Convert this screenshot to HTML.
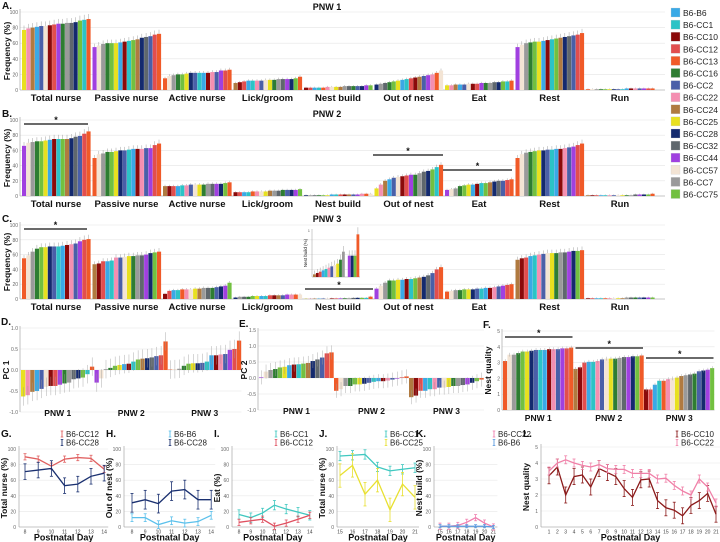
<!DOCTYPE html>
<html><head><meta charset="utf-8">
<style>
html,body{margin:0;padding:0;background:#fff;}
svg{display:block;font-family:"Liberation Sans",sans-serif;}
</style></head>
<body>
<svg id="fig" width="720" height="542" viewBox="0 0 720 542"></svg>
<script>
const strains=["B6-B6","B6-CC1","B6-CC10","B6-CC12","B6-CC13","B6-CC16","B6-CC2","B6-CC22","B6-CC24","B6-CC25","B6-CC28","B6-CC32","B6-CC44","B6-CC57","B6-CC7","B6-CC75"];
const colors=["#3aa9e6","#2cc3c6","#8b0a0a","#e24e4e","#f05a28","#2e7d32","#4a5fa8","#f48fb1","#b07a40","#e8e020","#142a6e","#5f676d","#a040e0","#f3e4d4","#9a9a9a","#72c040"];
const behaviors=["Total nurse","Passive nurse","Active nurse","Lick/groom","Nest build","Out of nest","Eat","Rest","Run"];
const orders=[
[12,13,14,5,15,9,0,2,1,15,8,10,11,6,3,4],
[4,13,14,5,15,9,10,6,1,0,2,7,6,12,3,4],
[8,2,3,0,1,7,6,13,9,5,14,11,12,10,15,4],
[2,3,0,1,4,7,13,9,8,14,11,5,6,10,12,15],
[10,14,11,5,15,9,0,1,3,2,8,6,12,7,4,13],
[9,7,8,0,6,13,2,3,12,5,14,11,10,15,1,4]];
const pnw1=[[77,79,80,81,82,82,83,84,85,85,86,86,87,89,90,91],[55,57,59,60,60,60,61,62,63,64,65,67,68,69,71,72],[15,18,19,20,20,21,22,22,22,22,22,23,23,25,25,26],[9,10,11,12,12,12,12,13,13,13,14,14,14,14,15,17],[3,3,3,3,3,4,4,4,4,5,5,5,5,5,6,6],[7,8,9,10,11,12,13,14,15,16,17,18,19,20,22,25],[6,6,7,7,7,8,8,8,9,9,9,10,10,11,11,12],[55,58,60,61,62,62,63,64,65,66,67,68,69,70,71,73],[1,1,1,1,1,1,1,1,1,2,2,2,2,2,2,2]];
const pnw2=[[66,70,71,72,72,73,74,75,75,75,75,76,78,79,82,85],[50,55,56,58,58,59,60,60,61,62,62,62,63,63,67,69],[13,13,13,13,14,14,15,15,15,15,16,16,16,16,17,18],[5,5,5,5,6,6,6,6,7,7,7,8,8,8,8,9],[1,1,1,1,1,1,2,2,2,2,2,2,2,3,3,3],[10,15,20,22,24,25,26,27,28,28,30,32,33,35,38,41],[8,9,10,13,14,15,15,16,17,17,18,19,20,20,21,22],[50,55,57,58,59,60,60,61,61,62,62,63,64,65,67,69],[1,1,1,1,1,1,1,1,1,1,1,2,2,2,2,3]];
const pnw3=[[55,59,64,68,70,70,71,71,71,72,73,74,75,78,80,81],[47,48,51,51,52,56,56,57,58,58,59,59,60,62,63,64],[7,11,12,12,13,13,13,14,14,15,15,15,16,17,18,22],[2,3,3,3,4,4,4,4,5,5,5,5,6,6,6,6],[0.3,0.4,0.5,0.5,0.6,0.7,0.8,0.8,0.9,1,1.1,1.5,1.6,1.6,1.6,3.2],[14,18,22,25,25,26,26,27,27,28,29,30,32,35,40,43],[10,11,12,12,13,13,13,14,14,15,15,16,17,18,19,20],[53,55,56,58,59,60,61,62,62,62,63,63,64,65,65,66],[1,1,1,1,1,1,1,1,1,2,2,2,2,2,2,2]];
const nestInset=[0.2,0.3,0.4,0.5,0.6,0.7,0.8,0.9,1.0,1.3,1.9,null,1.6,1.6,1.6,3.2];
const pc1=[[-0.63,-0.6,-0.52,-0.5,-0.45,-0.4,-0.38,-0.38,-0.35,-0.32,-0.3,-0.22,-0.2,-0.18,-0.1,0.08],[-0.3,-0.2,0.02,0.05,0.1,0.12,0.14,0.15,0.2,0.25,0.27,0.28,0.3,0.33,0.35,0.68],[0.01,0.02,0.03,0.1,0.15,0.16,0.16,0.17,0.2,0.35,0.35,0.37,0.38,0.48,0.5,0.7]];
const pc2=[[0.02,0.2,0.25,0.28,0.33,0.35,0.4,0.42,0.43,0.45,0.47,0.53,0.58,0.64,0.77,0.8],[-0.4,-0.35,-0.25,-0.25,-0.2,-0.2,-0.18,-0.15,-0.12,-0.1,-0.1,-0.08,-0.05,-0.02,0.02,0.05],[-0.6,-0.55,-0.4,-0.4,-0.35,-0.35,-0.3,-0.3,-0.28,-0.25,-0.25,-0.22,-0.2,-0.15,-0.1,-0.05]];
const nestQ=[[3.1,3.5,3.5,3.6,3.7,3.7,3.75,3.8,3.8,3.8,3.85,3.85,3.85,3.9,3.9,3.95],[2.6,2.7,3.0,3.05,3.05,3.1,3.2,3.25,3.25,3.25,3.3,3.35,3.35,3.4,3.4,3.45],[1.3,1.3,1.6,1.85,1.85,1.95,2.0,2.05,2.15,2.2,2.25,2.3,2.45,2.5,2.55,2.65]];
const pnwLabels=["PNW 1","PNW 2","PNW 3"];
const pctTicks=[0,20,40,60,80,100];
const daysA=[8,9,10,11,12,13,14];
const daysB=[15,16,17,18,19,20,21];
const daysL=[1,2,3,4,5,6,7,8,9,10,11,12,13,14,15,16,17,18,19,20,21];
const gCC12=[90,87,78,87,89,88,74], gCC28=[71,73,75,53,55,65,69];
const hB6=[12,12,3,8,5,7,15], hCC28=[31,35,30,46,48,35,35];
const iCC1=[16,12,18,28,23,19,15], iCC12=[6,8,10,1,5,10,15];
const jCC1=[91,92,93,77,72,74,76], jCC25=[66,79,42,60,22,55,38];
const kCC22=[1,1,2,6,12,5,0], kB6=[1,1,1,1,1,1,0];
const lCC22=[3.5,4.0,4.2,4.0,3.85,3.75,3.9,3.65,3.6,3.6,3.35,3.35,3.35,3.0,3.05,2.6,2.25,2.0,3.0,2.5,1.5];
const lCC10=[3.2,3.75,2.0,3.15,3.25,2.5,3.65,3.4,3.15,2.4,1.85,2.95,3.0,1.65,1.2,1.05,0.7,1.35,1.65,2.1,0.8];

const svg=document.getElementById('fig');
const NS="http://www.w3.org/2000/svg";
function mk(tag,at,parent){const e=document.createElementNS(NS,tag);for(const k in at)e.setAttribute(k,at[k]);(parent||svg).appendChild(e);return e;}
function txt(s,x,y,size,opt,parent){opt=opt||{};const e=mk('text',{x:x,y:y,'font-size':size,fill:opt.fill||'#111','text-anchor':opt.anchor||'middle','font-weight':opt.bold?'bold':'normal'},parent);if(opt.rot)e.setAttribute('transform','rotate(-90 '+x+' '+y+')');e.textContent=s;return e;}
function line(x1,y1,x2,y2,st,w,parent){return mk('line',{x1:x1,y1:y1,x2:x2,y2:y2,stroke:st,'stroke-width':w},parent);}

function barPanel(name,letter,title,data,y0,y100,titleY,star){
  const g=mk('g',{});
  
  
  const ys=v=>y0-(y0-y100)*v/100;
  pctTicks.forEach(t=>{line(20,ys(t),665,ys(t),'#e4e4e4',0.6,g);txt(String(t),18,ys(t)+2,5,{anchor:'end',fill:'#666'},g);});
  line(20,y100-3,20,y0,'#999',0.6,g);line(20,y0,665,y0,'#999',0.6,g);
  txt(letter,2,y100-3,10,{anchor:'start',bold:true},g);
  txt(title,327,titleY,9,{bold:true},g);
  txt('Frequency (%)',10,(y0+y100)/2,8.5,{rot:true,bold:true},g);
  data.forEach((vals,gi)=>{
    const ord=orders[(gi+letter.charCodeAt(0))%orders.length];
    vals.forEach((v,i)=>{
      const x=22+gi*70.5+i*4.3;
      const r=mk('rect',{x:x,y:ys(v),width:4.1,height:y0-ys(v),fill:colors[ord[i]]},g);
      
      
      const e=(0.06*v+1)*(y0-y100)/100;
      line(x+2,ys(v)-e,x+2,ys(v),'#888',0.4,g);
    });
    const l=txt(behaviors[gi],22+gi*70.5+34,y0+11,9.5,{},g);
    l.setAttribute('font-weight','600');
  });
  (star||[]).forEach(s=>{line(s[0],s[2],s[1],s[2],'#111',1.3,g);txt('*',(s[0]+s[1])/2,s[2]-1,9,{bold:true},g);});
  return g;
}
barPanel('panel-a-pnw1','A.','PNW 1',pnw1,90,12,10,[]);
barPanel('panel-b-pnw2','B.','PNW 2',pnw2,196,120,117,[[24,88,124],[373,443,155],[443,512,170]]);
barPanel('panel-c-pnw3','C.','PNW 3',pnw3,299,225,222,[[24,87,229],[305,373,289]]);
(function(){
  const g=mk('g',{});
  
  
  const b=277,t=229;
  const ys=v=>b-(b-t)*v/3.6;
  line(312,t,312,b,'#999',0.5,g);line(312,b,360,b,'#999',0.5,g);
  txt('1',310,t+3,4,{anchor:'end',fill:'#666'},g);
  txt('Nest build (%)',307,(t+b)/2,4.5,{rot:true},g);
  const ord=orders[2];
  nestInset.forEach((v,i)=>{if(v===null)return;const x=313+i*2.9;
    const r=mk('rect',{x:x,y:ys(v),width:2.8,height:b-ys(v),fill:colors[ord[i]]},g);
    
    
    line(x+1.4,ys(v)-(0.3*v+1)*3.6,x+1.4,ys(v),'#888',0.4,g);});
})();

function pcPanel(name,letter,axisTitle,data,x0,gw,y0,unit,ticks,dec,star){
  const g=mk('g',{});
  
  
  const ys=v=>y0-unit*v;
  const xr=x0+gw*3;
  ticks.forEach(t=>{line(x0-1,ys(t),xr,ys(t),'#e4e4e4',0.6,g);txt(t.toFixed(dec),x0-3,ys(t)+2,5,{anchor:'end',fill:'#666'},g);});
  line(x0-1,ys(ticks[ticks.length-1])-2,x0-1,ys(ticks[0]),'#999',0.6,g);
  if(star)line(x0-1,ys(ticks[0]),xr,ys(ticks[0]),'#999',0.6,g);
  txt(letter,x0-20,ys(ticks[ticks.length-1])-3,10,{anchor:'start',bold:true},g);
  txt(axisTitle,x0-12,(ys(ticks[0])+ys(ticks[ticks.length-1]))/2,8.5,{rot:true,bold:true},g);
  const bw=gw/16;
  data.forEach((vals,gi)=>{
    const ord=orders[(gi+3+letter.charCodeAt(0))%orders.length];
    vals.forEach((v,i)=>{
      const x=x0+gi*gw+i*bw;
      const yA=Math.min(ys(v),ys(0)),h=Math.abs(ys(v)-ys(0));
      const r=mk('rect',{x:x,y:yA,width:bw-0.3,height:h,fill:colors[ord[i]]},g);
      
      
      const e=star?0.12*unit:0.22*unit;
      line(x+bw/2,ys(v)-e,x+bw/2,ys(v)+e,'#999',0.4,g);
    });
    const lb=txt(pnwLabels[gi],x0+gi*gw+gw/2,ys(ticks[0])+(star?11:4),8.5,{},g);lb.setAttribute('font-weight','600');
  });
  (star||[]).forEach((s,i)=>{const xa=x0+i*gw+2,xb=x0+(i+1)*gw-1;line(xa,s,xb,s,'#111',1.3,g);txt('*',(xa+xb)/2,s-1,9,{bold:true},g);});
}
pcPanel('panel-d-pc1','D.','PC 1',pc1,21,73.5,370,42,[-1,-0.5,0,0.5,1],1,null);
pcPanel('panel-e-pc2','E.','PC 2',pc2,259,75,378,32,[-1,-0.5,0,0.5,1,1.5],1,null);
pcPanel('panel-f-nest-quality','F.','Nest quality',nestQ,503,70.5,410,15.8,[0,1,2,3,4,5],0,[337,348,358]);

function linePanel(name,letter,yTitle,days,series,axX,xd0,dx,y0,ytop,ymax,ticks,legX){
  const g=mk('g',{});
  
  
  const ys=v=>y0-(y0-ytop)*v/ymax;
  const xs=i=>xd0+i*dx;
  const xr=xs(days.length-1)+4;
  ticks.forEach(t=>{line(axX,ys(t),xr,ys(t),'#e8e8e8',0.6,g);txt(String(t),axX-3,ys(t)+2,5,{anchor:'end',fill:'#666'},g);});
  line(axX,ytop-3,axX,y0,'#999',0.6,g);line(axX,y0,xr,y0,'#999',0.6,g);
  days.forEach((d,i)=>txt(String(d),xs(i),y0+6.5,5,{fill:'#444'},g));
  const t=txt('Postnatal Day',(axX+xr)/2,y0+13.5,9,{},g);t.setAttribute('font-weight','600');
  txt(yTitle,axX-12,(y0+ytop)/2,8.5,{rot:true,bold:true},g);
  txt(letter,axX-18,437,10,{anchor:'start',bold:true},g);
  series.forEach((s,si)=>{
    const pts=s.vals.map((v,i)=>xs(i)+','+ys(v)).join(' ');
    s.vals.forEach((v,i)=>{const e=(s.err||0.08)*ymax*(y0-ytop)/ymax;line(xs(i),ys(v)-e,xs(i),ys(v)+e,s.color,0.8,g);line(xs(i)-1.5,ys(v)-e,xs(i)+1.5,ys(v)-e,s.color,0.8,g);line(xs(i)-1.5,ys(v)+e,xs(i)+1.5,ys(v)+e,s.color,0.8,g);});
    const p=mk('polyline',{points:pts,fill:'none',stroke:s.color,'stroke-width':1.3},g);
    
    
    const ly=437+si*8.5;
    line(legX,ly-6,legX,ly,s.color,0.9,g);line(legX-1.3,ly-6,legX+1.3,ly-6,s.color,0.8,g);line(legX-1.3,ly,legX+1.3,ly,s.color,0.8,g);
    txt(s.name,legX+4,ly,8,{anchor:'start',fill:'#222'},g);
  });
}
linePanel('panel-g','G.','Total nurse (%)',daysA,[{name:'B6-CC12',vals:gCC12,color:'#e06060',err:0.04},{name:'B6-CC28',vals:gCC28,color:'#1a3070',err:0.1}],19,25,13.2,527,449,100,pctTicks,62);
linePanel('panel-h','H.','Out of nest (%)',daysA,[{name:'B6-B6',vals:hB6,color:'#5bc0eb',err:0.05},{name:'B6-CC28',vals:hCC28,color:'#1a3070',err:0.12}],124,132,13.2,527,449,100,pctTicks,170);
linePanel('panel-i','I.','Eat (%)',daysA,[{name:'B6-CC1',vals:iCC1,color:'#40c8c0',err:0.06},{name:'B6-CC12',vals:iCC12,color:'#e05060',err:0.04}],232,239,11.8,527,449,100,pctTicks,276);
linePanel('panel-j','J.','Total nurse (%)',daysB,[{name:'B6-CC1',vals:jCC1,color:'#40c8c0',err:0.06},{name:'B6-CC25',vals:jCC25,color:'#e8e030',err:0.15}],337,340,12.5,527,449,100,pctTicks,386);
linePanel('panel-k','K.','Nest build (%)',daysB,[{name:'B6-CC22',vals:kCC22,color:'#f080b0',err:0.04},{name:'B6-B6',vals:kB6,color:'#5b9be0',err:0.02}],434,440,8.9,527,449,100,pctTicks,494);
linePanel('panel-l','L.','Nest quality',daysL,[{name:'B6-CC10',vals:lCC10,color:'#8b1a1a',err:0.1},{name:'B6-CC22',vals:lCC22,color:'#f080a8',err:0.05}],541,549,8.35,527,447,5,[0,1,2,3,4,5],677);

(function(){
  const g=mk('g',{});
  
  
  strains.forEach((s,i)=>{
    const y=8+i*12.1;
    const r=mk('rect',{x:671,y:y,width:9,height:9,fill:colors[i],stroke:'#ccc','stroke-width':0.3},g);
    
    
    const t=txt(s,683,y+8,8.5,{anchor:'start',fill:'#222'},g);
    
    
  });
})();
</script>
</body></html>
